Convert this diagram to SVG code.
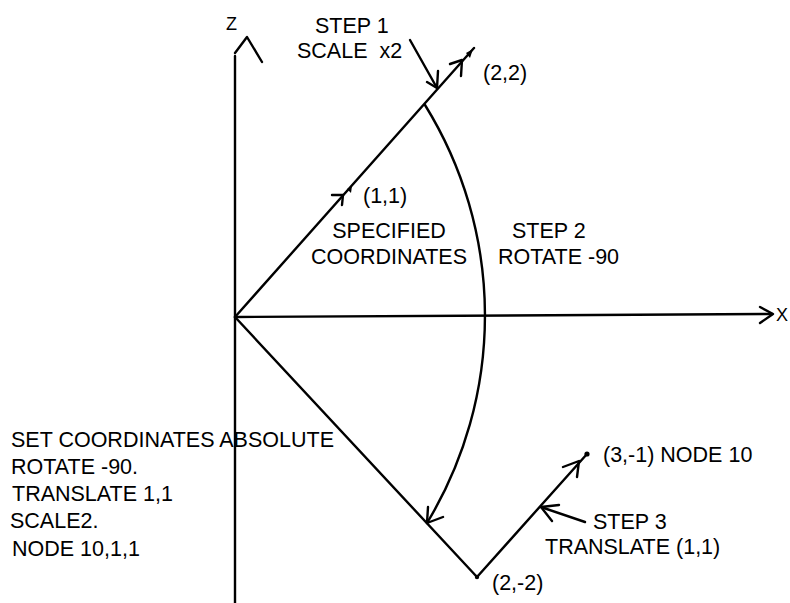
<svg xmlns="http://www.w3.org/2000/svg" width="790" height="603" viewBox="0 0 790 603">
<style>
.ln{fill:none;stroke:#000;stroke-width:2.4;stroke-linecap:round;stroke-linejoin:round}
.t{font-family:"Liberation Sans",Arial,Helvetica,sans-serif;font-size:21.5px;fill:#000}
.ax{font-family:"Liberation Sans",Arial,Helvetica,sans-serif;font-size:18px;fill:#000}
.dot{fill:#000}
</style>
<rect width="790" height="603" fill="#fff"/>
<g id="connectors">
  <!-- Z axis -->
  <line class="ln" x1="235" y1="56" x2="235" y2="603"/>
  <polyline class="ln" points="235,53 247,37 262,62"/>
  <!-- X axis -->
  <line class="ln" x1="235" y1="317" x2="772" y2="314"/>
  <polyline class="ln" points="760,307 773,314 760,323"/>
  <!-- origin to (2,2) -->
  <line class="ln" x1="235" y1="317" x2="474" y2="48"/>
  <polyline class="ln" points="450,64 462,60 461,76"/>
  <polygon class="dot" points="473,49 466,53 470,58"/>
  <!-- (1,1) marker -->
  <polyline class="ln" points="332,195 343,195 342,205"/>
  <polygon class="dot" points="352,186 347,189 351,193"/>
  <!-- STEP 1 arrow -->
  <line class="ln" x1="410" y1="40" x2="437" y2="88"/>
  <polyline class="ln" points="427,82 437,88 438,71"/>
  <!-- rotation arc -->
  <path class="ln" d="M425,105 A400,400 0 0 1 427,523"/>
  <polyline class="ln" points="428,507 427,523 443,517"/>
  <!-- origin to (2,-2) -->
  <line class="ln" x1="235" y1="317" x2="477" y2="577"/>
  <circle class="dot" cx="477" cy="577" r="2.2"/>
  <!-- (2,-2) to (3,-1) -->
  <line class="ln" x1="477" y1="577" x2="587" y2="454"/>
  <polyline class="ln" points="563,467 579,461 577,477"/>
  <circle class="dot" cx="587" cy="454" r="2.6"/>
  <!-- STEP 3 arrow -->
  <line class="ln" x1="585" y1="522" x2="541" y2="507"/>
  <polyline class="ln" points="559,505 541,507 552,521"/>
</g>
<g id="axis-z"><text class="ax" x="226" y="30">Z</text></g>
<g id="axis-x"><text class="ax" x="776" y="321">X</text></g>
<g id="step1">
  <text class="t" x="315" y="33">STEP 1</text>
  <text class="t" x="297" y="58" xml:space="preserve">SCALE  x2</text>
</g>
<g id="p22"><text class="t" x="483" y="80">(2,2)</text></g>
<g id="p11"><text class="t" x="363" y="203">(1,1)</text></g>
<g id="specified">
  <text class="t" x="389" y="238" text-anchor="middle">SPECIFIED</text>
  <text class="t" x="389" y="264" text-anchor="middle">COORDINATES</text>
</g>
<g id="step2">
  <text class="t" x="512" y="238">STEP 2</text>
  <text class="t" x="498" y="264">ROTATE -90</text>
</g>
<g id="commands">
  <text class="t" x="11" y="447">SET COORDINATES ABSOLUTE</text>
  <text class="t" x="11" y="474">ROTATE -90.</text>
  <text class="t" x="12" y="501">TRANSLATE 1,1</text>
  <text class="t" x="10" y="528">SCALE2.</text>
  <text class="t" x="12" y="556">NODE 10,1,1</text>
</g>
<g id="node10"><text class="t" x="603" y="462">(3,-1) NODE 10</text></g>
<g id="step3">
  <text class="t" x="593" y="529">STEP 3</text>
  <text class="t" x="545" y="554">TRANSLATE (1,1)</text>
</g>
<g id="p2m2"><text class="t" x="492" y="590">(2,-2)</text></g>
</svg>
